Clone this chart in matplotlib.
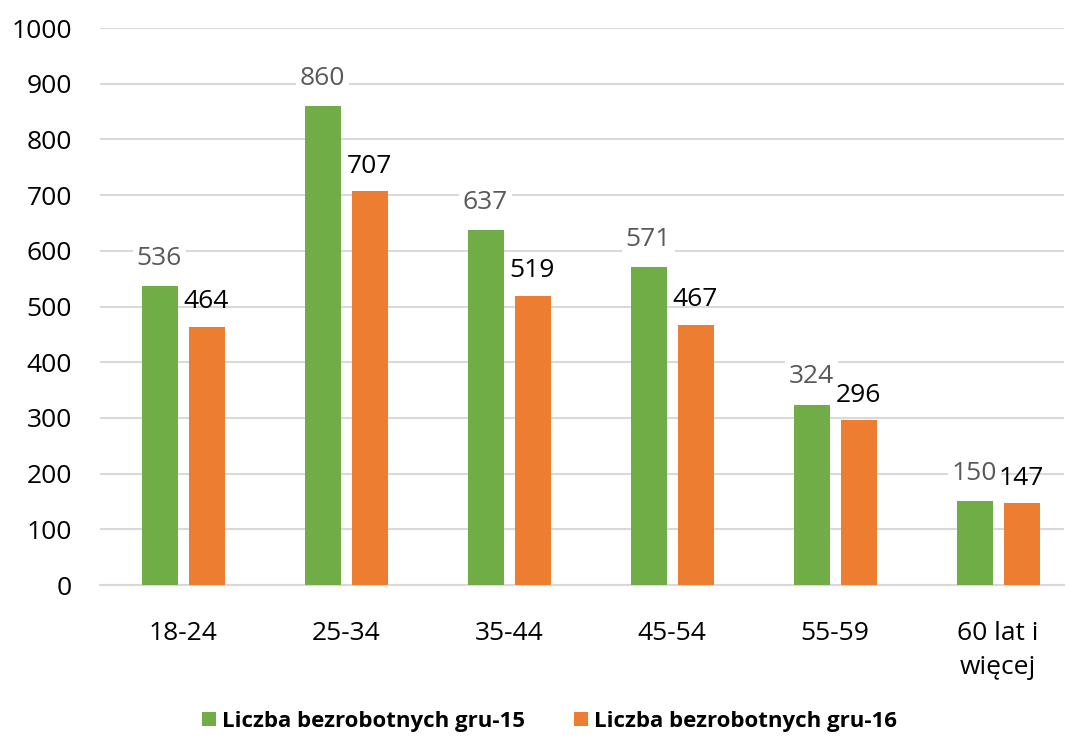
import numpy as np
import matplotlib
matplotlib.use("Agg")
import matplotlib.pyplot as plt

plt.rcParams['font.family'] = ['Open Sans', 'DejaVu Sans']

categories = ['18-24', '25-34', '35-44', '45-54', '55-59', '60 lat i\nwięcej']
gru15 = [536, 860, 637, 571, 324, 150]
gru16 = [464, 707, 519, 467, 296, 147]
series_names = ['Liczba bezrobotnych gru-15', 'Liczba bezrobotnych gru-16']

green = '#70ad47'
orange = '#ed7d31'

fig = plt.figure(figsize=(10.72, 7.38), dpi=100)
ax = fig.add_axes([0.093, 0.2073, 0.9, 0.7547])

x = np.arange(len(categories))
w = 0.22
off = 0.144
b1 = ax.bar(x - off + 0.005, gru15, w, color=green, label=series_names[0], zorder=3)
b2 = ax.bar(x + off + 0.005, gru16, w, color=orange, label=series_names[1], zorder=3)

for xi, v in zip(x, gru15):
    ax.annotate(str(v), (xi - off, v), xytext=(0, 11), textcoords='offset points',
                ha='center', va='bottom', fontsize=19, color='#595959', zorder=4,
                bbox=dict(boxstyle='square,pad=0.15', fc='white', ec='none'))
for xi, v in zip(x, gru16):
    ax.annotate(str(v), (xi + off, v), xytext=(0, 9), textcoords='offset points',
                ha='center', va='bottom', fontsize=19, color='black', zorder=4)

ax.set_xlim(-0.51, 5.41)
ax.set_ylim(0, 1000)
ax.set_yticks(np.arange(0, 1001, 100))
ax.set_xticks(x)
ax.set_xticklabels(categories, linespacing=1.45)
ax.tick_params(axis='y', length=0, labelsize=19, pad=20)
ax.tick_params(axis='x', length=0, labelsize=19, pad=26)
ax.grid(axis='y', color='#d9d9d9', linewidth=1.5, zorder=0)
for s in ['top', 'right', 'left']:
    ax.spines[s].set_visible(False)
ax.spines['bottom'].set_color('#d9d9d9')
ax.spines['bottom'].set_linewidth(1.5)

fig.legend(handles=[b1, b2], loc='center', bbox_to_anchor=(0.513, 0.022), ncol=2,
           frameon=False, prop={'weight': 'bold', 'size': 16},
           handlelength=0.6, handleheight=0.6, handletextpad=0.3, columnspacing=2.2)

fig.savefig('out.png', dpi=100)
